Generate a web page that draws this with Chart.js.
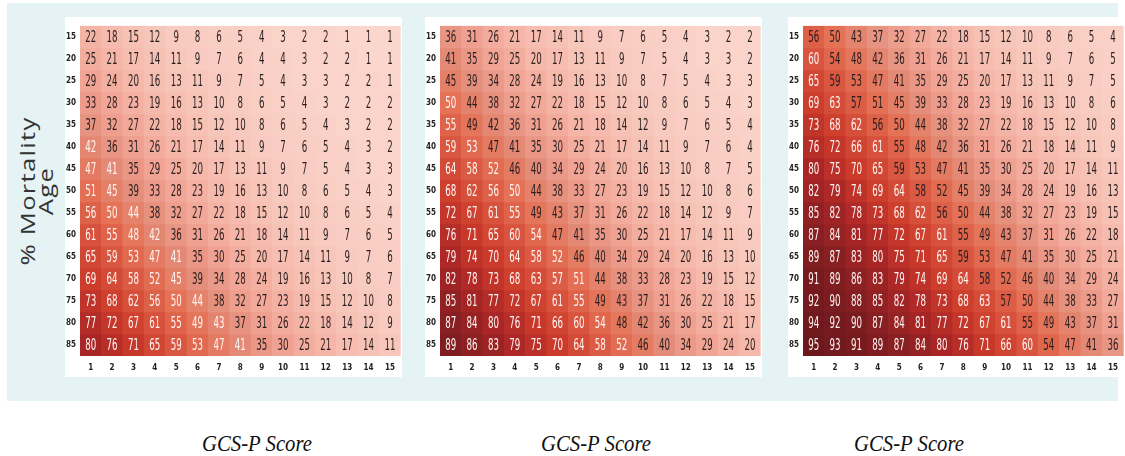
<!DOCTYPE html>
<html lang="en">
<head>
<meta charset="UTF-8">
<title>% Mortality by Age and GCS-P Score</title>
<script src="https://cdn.jsdelivr.net/npm/chart.js"></script>
<style>
  body { margin: 0; width: 1125px; height: 456px; background: #fff; position: relative; overflow: hidden; font-family: "Liberation Sans", Arial, sans-serif; }
  #bg { position: absolute; left: 7px; top: 3px; width: 1111px; height: 398px; background: #e5f3f5; }
  .panel { position: absolute; top: 17px; width: 337px; height: 360px; background: #fff; }
  .ytitle { position: absolute; left: 37px; top: 191px; transform: translate(-50%, -50%) rotate(-90deg) scaleX(1.28); text-align: center; font-family: "Open Sans", sans-serif; font-size: 20px; letter-spacing: 1px; line-height: 18px; color: #333; white-space: nowrap; }
  .xtitle { position: absolute; top: 431px; font-family: "Liberation Serif", "Times New Roman", serif; font-style: italic; font-size: 23px; color: #111; transform: translateX(-50%) scaleX(0.9); white-space: nowrap; }
</style>
</head>
<body>
<div id="bg"></div>
<div class="ytitle">% Mortality<br>Age</div>

<div class="panel" style="left:65px"><canvas id="chartA" width="337" height="360"></canvas></div>
<div class="panel" style="left:425px"><canvas id="chartB" width="337" height="360"></canvas></div>
<div class="panel" style="left:788px"><canvas id="chartC" width="337" height="360"></canvas></div>

<div class="xtitle" style="left:257px">GCS-P Score</div>
<div class="xtitle" style="left:596px">GCS-P Score</div>
<div class="xtitle" style="left:909px">GCS-P Score</div>

<script>
const ages = ['15','20','25','30','35','40','45','50','55','60','65','70','75','80','85'];
const gcsScores = ['1','2','3','4','5','6','7','8','9','10','11','12','13','14','15'];

// rows = age, columns = GCS-P score
const mortalityA = [
  [22,18,15,12, 9, 8, 6, 5, 4, 3, 2, 2, 1, 1, 1],
  [25,21,17,14,11, 9, 7, 6, 4, 4, 3, 2, 2, 1, 1],
  [29,24,20,16,13,11, 9, 7, 5, 4, 3, 3, 2, 2, 1],
  [33,28,23,19,16,13,10, 8, 6, 5, 4, 3, 2, 2, 2],
  [37,32,27,22,18,15,12,10, 8, 6, 5, 4, 3, 2, 2],
  [42,36,31,26,21,17,14,11, 9, 7, 6, 5, 4, 3, 2],
  [47,41,35,29,25,20,17,13,11, 9, 7, 5, 4, 3, 3],
  [51,45,39,33,28,23,19,16,13,10, 8, 6, 5, 4, 3],
  [56,50,44,38,32,27,22,18,15,12,10, 8, 6, 5, 4],
  [61,55,48,42,36,31,26,21,18,14,11, 9, 7, 6, 5],
  [65,59,53,47,41,35,30,25,20,17,14,11, 9, 7, 6],
  [69,64,58,52,45,39,34,28,24,19,16,13,10, 8, 7],
  [73,68,62,56,50,44,38,32,27,23,19,15,12,10, 8],
  [77,72,67,61,55,49,43,37,31,26,22,18,14,12, 9],
  [80,76,71,65,59,53,47,41,35,30,25,21,17,14,11]
];
const mortalityB = [
  [36,31,26,21,17,14,11, 9, 7, 6, 5, 4, 3, 2, 2],
  [41,35,29,25,20,17,13,11, 9, 7, 5, 4, 3, 3, 2],
  [45,39,34,28,24,19,16,13,10, 8, 7, 5, 4, 3, 3],
  [50,44,38,32,27,22,18,15,12,10, 8, 6, 5, 4, 3],
  [55,49,42,36,31,26,21,18,14,12, 9, 7, 6, 5, 4],
  [59,53,47,41,35,30,25,21,17,14,11, 9, 7, 6, 4],
  [64,58,52,46,40,34,29,24,20,16,13,10, 8, 7, 5],
  [68,62,56,50,44,38,33,27,23,19,15,12,10, 8, 6],
  [72,67,61,55,49,43,37,31,26,22,18,14,12, 9, 7],
  [76,71,65,60,54,47,41,35,30,25,21,17,14,11, 9],
  [79,74,70,64,58,52,46,40,34,29,24,20,16,13,10],
  [82,78,73,68,63,57,51,44,38,33,28,23,19,15,12],
  [85,81,77,72,67,61,55,49,43,37,31,26,22,18,15],
  [87,84,80,76,71,66,60,54,48,42,36,30,25,21,17],
  [89,86,83,79,75,70,64,58,52,46,40,34,29,24,20]
];
const mortalityC = [
  [56,50,43,37,32,27,22,18,15,12,10, 8, 6, 5, 4],
  [60,54,48,42,36,31,26,21,17,14,11, 9, 7, 6, 5],
  [65,59,53,47,41,35,29,25,20,17,13,11, 9, 7, 5],
  [69,63,57,51,45,39,33,28,23,19,16,13,10, 8, 6],
  [73,68,62,56,50,44,38,32,27,22,18,15,12,10, 8],
  [76,72,66,61,55,48,42,36,31,26,21,18,14,11, 9],
  [80,75,70,65,59,53,47,41,35,30,25,20,17,14,11],
  [82,79,74,69,64,58,52,45,39,34,28,24,19,16,13],
  [85,82,78,73,68,62,56,50,44,38,32,27,23,19,15],
  [87,84,81,77,72,67,61,55,49,43,37,31,26,22,18],
  [89,87,83,80,75,71,65,59,53,47,41,35,30,25,21],
  [91,89,86,83,79,74,69,64,58,52,46,40,34,29,24],
  [92,90,88,85,82,78,73,68,63,57,50,44,38,33,27],
  [94,92,90,87,84,81,77,72,67,61,55,49,43,37,31],
  [95,93,91,89,87,84,80,76,71,66,60,54,47,41,36]
];

// colour ramp, light pink -> dark red
const stops = [
  [0, 251,215,205], [10, 248,201,190], [20, 245,184,170], [30, 240,162,146],
  [40, 227,140,121], [50, 229,114,86], [60, 216,84,62], [70, 203,58,42],
  [80, 170,38,38], [90, 122,28,32], [100, 95,20,25]
];
function cellColor(v) {
  let i = 0;
  while (i < stops.length - 2 && v > stops[i + 1][0]) i++;
  const a = stops[i], b = stops[i + 1];
  const t = Math.min(1, Math.max(0, (v - a[0]) / (b[0] - a[0])));
  const c = [1, 2, 3].map(k => Math.round(a[k] + (b[k] - a[k]) * t));
  return `rgb(${c[0]},${c[1]},${c[2]})`;
}

const cellLabels = {
  id: 'cellLabels',
  afterDatasetsDraw(chart, args, opts) {
    const ctx = chart.ctx;
    ctx.save();
    ctx.font = '15px "DejaVu Sans Condensed", "DejaVu Sans", sans-serif';
    ctx.textAlign = 'center';
    ctx.textBaseline = 'middle';
    chart.data.datasets.forEach((ds, d) => {
      chart.getDatasetMeta(d).data.forEach((bar, i) => {
        const v = ds.mortality[i];
        const p = bar.getCenterPoint();
        ctx.save();
        ctx.translate(p.x, p.y + 1);
        ctx.scale(0.64, 1);
        ctx.fillStyle = v >= opts.whiteFrom ? '#fff6f3' : '#261c1c';
        ctx.fillText(String(v), 0, 0);
        ctx.restore();
      });
    });
    ctx.restore();
  }
};

const tickFont = { family: '"DejaVu Sans Condensed", "DejaVu Sans", sans-serif', size: 8, weight: 'bold' };

function makeChart(id, values, whiteFrom) {
  const datasets = ages.map((age, r) => ({
    label: age,
    data: values[r].map(() => [r, r + 1]),
    mortality: values[r],
    backgroundColor: values[r].map(cellColor),
    borderWidth: 0,
    barPercentage: 1,
    categoryPercentage: 1,
    grouped: false
  }));
  new Chart(document.getElementById(id), {
    type: 'bar',
    data: { labels: gcsScores, datasets },
    options: {
      responsive: false,
      animation: false,
      layout: { padding: { top: 1, right: 0, left: 0, bottom: 0 } },
      plugins: { legend: { display: false }, tooltip: { enabled: false }, cellLabels: { whiteFrom } },
      scales: {
        x: {
          grid: { display: false, drawTicks: false },
          border: { display: false },
          ticks: { font: tickFont, color: '#222', padding: 7, maxRotation: 0, autoSkip: false },
          afterFit: s => { s.height = 21; }
        },
        y: {
          min: 0, max: 15, reverse: true,
          grid: { display: false, drawTicks: false },
          border: { display: false },
          afterBuildTicks: s => { s.ticks = ages.map((a, i) => ({ value: i + 0.5 })); },
          ticks: { font: tickFont, color: '#222', padding: 4, callback: (v, i) => ages[i] },
          afterFit: s => { s.width = 15; }
        }
      }
    },
    plugins: [cellLabels]
  });
}

makeChart('chartA', mortalityA, 40);
makeChart('chartB', mortalityB, 50);
makeChart('chartC', mortalityC, 60);
</script>
</body>
</html>
